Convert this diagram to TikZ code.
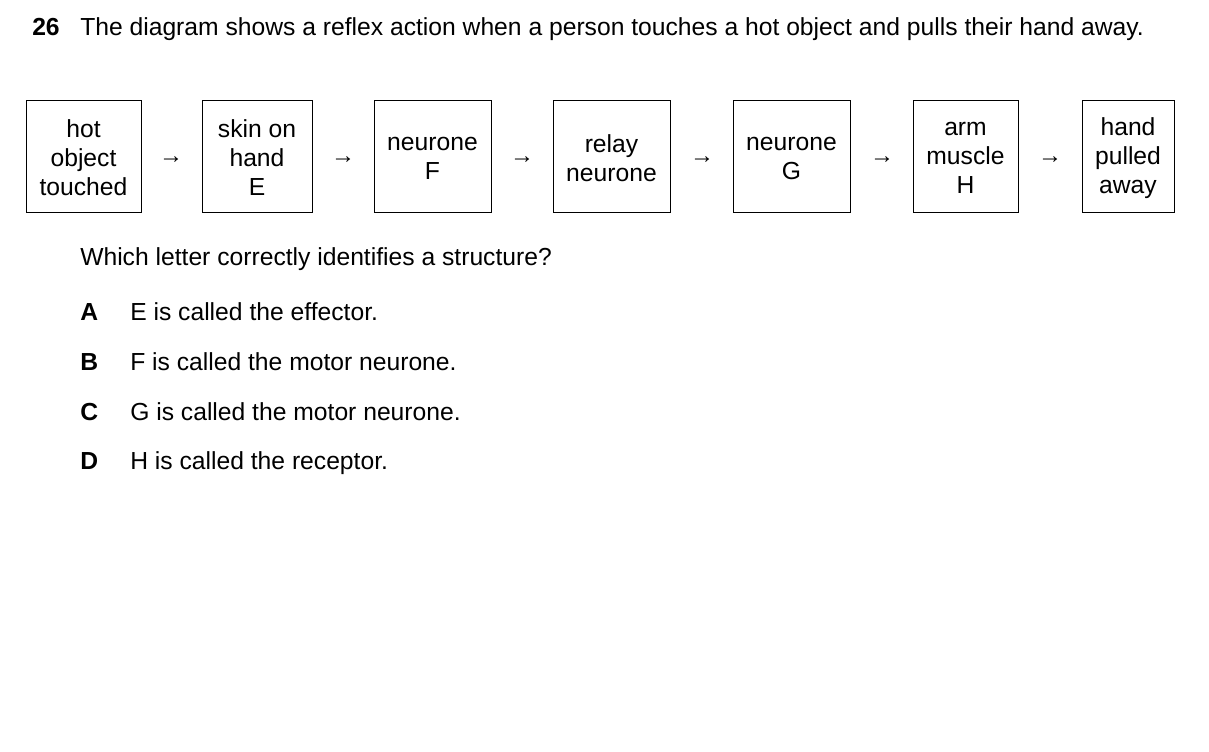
\documentclass[tikz,border=0pt]{standalone}
\usepackage{fontspec}
\setmainfont{Liberation Sans}
\begin{document}
\begin{tikzpicture}[x=0.75pt,y=-0.75pt,
  every node/.style={font=\fontsize{18.5pt}{21.75pt}\selectfont, inner sep=0pt},
  bf/.style={font=\bfseries\fontsize{18.5pt}{21.75pt}\selectfont},
  arr/.style={font=\fontsize{18pt}{20pt}\selectfont}]
\useasboundingbox (0,0) rectangle (1209,752);
\node[anchor=base west,bf] (num) at (32,36) {26};
\node[anchor=base west,text width=816pt,align=justify] (q) at (80,36) {\strut The diagram shows a reflex action when a person touches a hot object and pulls their hand away.};
\foreach \n/\xa/\xb/\t in {b1/26/141/{hot\\object\\touched},b2/202/312/{skin on\\hand\\E},b3/374/491/{neurone\\F},b4/553/670/{relay\\neurone},b5/733/850/{neurone\\G},b6/913/1018/{arm\\muscle\\H},b7/1082/1174/{hand\\pulled\\away}}{
  \draw[line width=0.75pt] (\xa,101) rectangle (\xb,213);
  \node[align=center] (\n) at ({(\xa+\xb)/2},158) {\t};
}
\foreach \n/\x in {a1/171,a2/343,a3/522,a4/702,a5/882,a6/1050}{
  \node[arr] (\n) at (\x,160) {→};
}
\node[anchor=base west] (w) at (80,266) {Which letter correctly identifies a structure?};
\foreach \l/\y/\t in {A/320/{E is called the effector.},B/370/{F is called the motor neurone.},C/420/{G is called the motor neurone.},D/469/{H is called the receptor.}}{
  \node[anchor=base west,bf] (l\l) at (80,\y) {\l};
  \node[anchor=base west] (t\l) at (130,\y) {\t};
}
\end{tikzpicture}
\end{document}
